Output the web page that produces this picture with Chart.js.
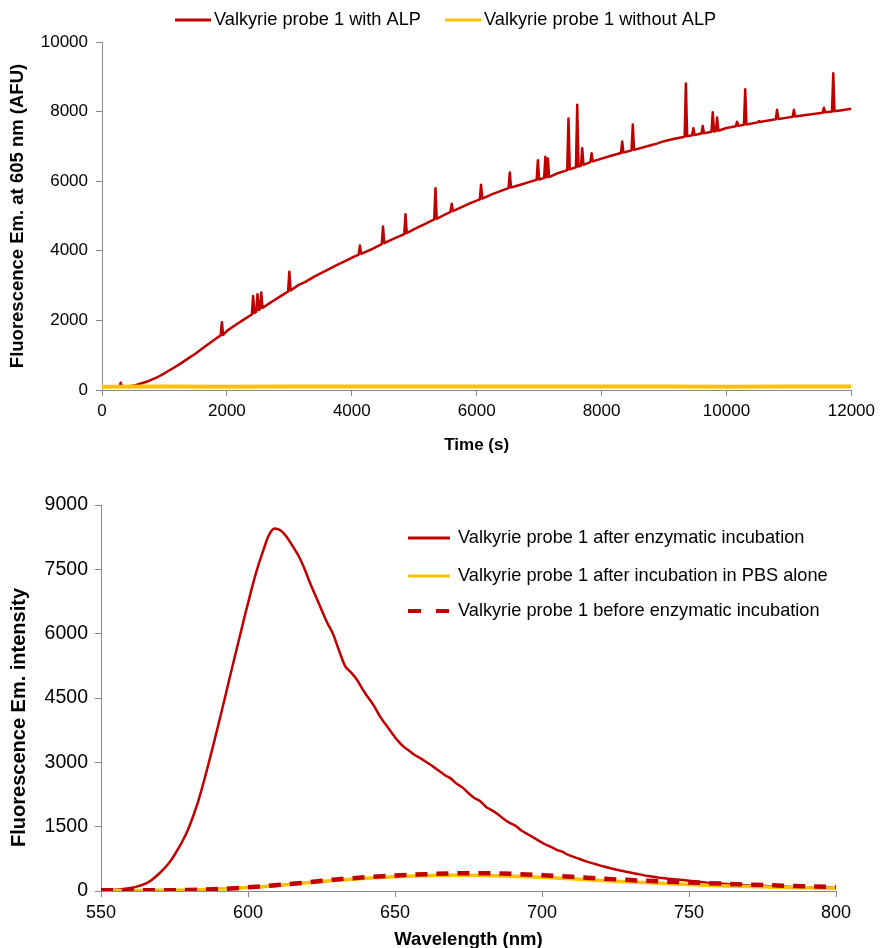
<!DOCTYPE html>
<html>
<head>
<meta charset="utf-8">
<script src="https://cdn.jsdelivr.net/npm/chart.js@4.4.1/dist/chart.umd.min.js"></script>
<style>
  html, body { margin:0; padding:0; background:#fff; overflow:hidden; }
  canvas { display:block; }
</style>
</head>
<body>
<canvas id="kinetic" width="880" height="470"></canvas>
<canvas id="spectra" width="880" height="484"></canvas>
<script>
// --- top panel: kinetics at 605 nm ---
const timeWithALP = [0,150,280,300,320,400,500,650,750,900,1000,1150,1250,1400,1500,1650,1750,1850,1900,1920,1940,2000,2150,2250,2400,2420,2440,2470,2490,2510,2530,2550,2570,2750,2900,2980,3000,3020,3150,3250,3400,3500,3650,3750,3900,4000,4110,4130,4150,4300,4480,4500,4520,4700,4840,4860,4880,5000,5150,5320,5340,5360,5500,5580,5600,5620,5750,5900,6050,6070,6090,6250,6400,6510,6530,6550,6700,6850,6960,6980,7000,7080,7100,7120,7140,7160,7300,7450,7470,7490,7590,7610,7630,7670,7690,7710,7820,7840,7860,8000,8150,8310,8330,8350,8480,8500,8520,8700,8850,9000,9150,9330,9350,9370,9450,9470,9490,9600,9620,9640,9760,9780,9800,9830,9850,9870,10000,10150,10170,10190,10280,10300,10320,10500,10520,10540,10650,10790,10810,10830,10950,11060,11080,11100,11300,11540,11560,11580,11690,11710,11730,11850,12000];
const afuWithALP  = [95,100,100,210,105,100,120,200,260,380,480,640,750,930,1050,1250,1380,1510,1560,1950,1580,1700,1880,2000,2170,2700,2210,2250,2750,2300,2330,2800,2360,2570,2740,2830,3400,2860,3020,3100,3260,3350,3490,3580,3710,3800,3890,4150,3910,4030,4190,4700,4220,4370,4480,5050,4510,4620,4750,4900,5800,4920,5050,5120,5350,5140,5250,5370,5480,5900,5500,5630,5730,5800,6250,5820,5900,5980,6040,6600,6050,6090,6700,6110,6650,6120,6230,6320,7800,6340,6400,8200,6420,6450,6950,6470,6550,6800,6570,6650,6730,6810,7140,6820,6890,7630,6900,6990,7060,7150,7210,7280,8810,7290,7320,7520,7330,7370,7590,7380,7420,7980,7430,7440,7830,7450,7530,7580,7710,7590,7620,8640,7630,7690,7730,7700,7740,7780,8050,7790,7820,7850,8050,7860,7910,7970,8110,7980,8000,9100,8010,8040,8080];
const timeNoALP = [0,1000,2000,3000,4000,5000,6000,7000,8000,9000,10000,11000,12000];
const afuNoALP  = [95,100,95,100,98,100,97,100,98,100,96,100,98];
const timeTicks = [0,2000,4000,6000,8000,10000,12000];
const afuTicks  = [0,2000,4000,6000,8000,10000];

// --- bottom panel: emission spectra ---
const nmAfter = [550,555,560,563,566,570,573,575,578,580,583,585,588,590,593,595,597,599,601,603,605,607,609,611,613,615,617,619,621,623,625,627,629,631,633,635,637,639,641,643,645,647,649,651,653,655,657,659,661,663,665,667,669,671,673,675,677,679,681,683,685,687,689,691,693,695,697,699,701,703,705,707,709,711,713,715,718,721,724,727,730,733,736,740,744,748,752,756,760,765,770,775,780,785,790,795,800];
const intAfter = [20,30,70,120,200,420,640,840,1200,1500,2080,2560,3350,3900,4750,5320,5880,6440,6980,7480,7900,8280,8450,8410,8270,8060,7840,7550,7200,6880,6560,6250,5980,5600,5250,5100,4930,4700,4500,4300,4060,3870,3680,3500,3360,3260,3160,3080,2990,2900,2800,2700,2620,2500,2410,2280,2170,2090,1960,1880,1790,1680,1590,1520,1410,1330,1250,1170,1090,1030,960,910,840,790,740,690,630,570,520,470,430,390,350,310,280,255,225,195,175,150,130,120,105,95,85,80,70];
const nmLow = [550,560,570,580,590,600,610,620,630,640,650,660,670,680,690,700,710,720,730,740,750,760,770,780,790,800];
const intPBS    = [15,10,15,25,45,80,130,190,250,300,335,355,365,360,345,320,285,245,210,180,150,125,105,90,75,60];
const intBefore = [20,15,15,25,45,85,140,200,270,320,360,390,410,415,400,370,330,290,255,225,200,175,150,130,110,95];
const nmTicks  = [550,600,650,700,750,800];
const intTicks = [0,1500,3000,4500,6000,7500,9000];

const RED = '#C00000', YELLOW = '#FFC000', AXIS = '#898989';
const FONT = "'Liberation Sans', Arial, sans-serif";

const pts = (xs, ys) => xs.map((x, i) => ({ x, y: ys[i] }));

// draws a line-sample legend at fixed spots
function lineLegend(id, spots, fontSize, len, gap){
  return {
    id,
    afterDraw(chart){
      const ctx = chart.ctx;
      ctx.save();
      ctx.font = fontSize + 'px ' + FONT;
      ctx.textBaseline = 'middle';
      spots.forEach((s, i) => {
        const ds = chart.data.datasets[i];
        ctx.strokeStyle = ds.borderColor;
        ctx.lineWidth = s.w;
        ctx.setLineDash(s.dash || []);
        ctx.beginPath(); ctx.moveTo(s.x, s.y); ctx.lineTo(s.x + len, s.y); ctx.stroke();
        ctx.fillStyle = '#000';
        ctx.fillText(ds.label, s.x + len + gap, s.y);
      });
      ctx.restore();
    }
  };
}

function axis(min, max, ticks, size, pad, title, titleSize, titlePad, fitKey, fitVal){
  return {
    type: 'linear', min, max,
    afterBuildTicks: s => { s.ticks = ticks.map(v => ({ value: v })); },
    afterFit: s => { s[fitKey] = fitVal; },
    ticks: { color:'#000', font:{ family:FONT, size }, padding:pad, maxRotation:0, autoSkip:false, callback: v => String(v) },
    grid: { drawOnChartArea:false, drawTicks:true, tickLength:6, color:AXIS },
    border: { color:AXIS, width:1 },
    title: { display:true, text:title, color:'#000', font:{ family:FONT, size:titleSize, weight:'bold', lineHeight:1.2 }, padding:titlePad }
  };
}

new Chart(document.getElementById('kinetic'), {
  type: 'line',
  data: { datasets: [
    { label:'Valkyrie probe 1 with ALP', data:pts(timeWithALP, afuWithALP), borderColor:RED, borderWidth:2.5, order:1 },
    { label:'Valkyrie probe 1 without ALP', data:pts(timeNoALP, afuNoALP), borderColor:YELLOW, borderWidth:4, order:0 }
  ]},
  options: {
    responsive:false, animation:false,
    layout: { autoPadding:false, padding:{ left:0, right:23, top:42, bottom:0 } },
    elements: { point:{ radius:0 }, line:{ tension:0, borderJoinStyle:'round' } },
    plugins: { legend:{ display:false }, tooltip:{ enabled:false } },
    scales: {
      x: axis(0, 12000, timeTicks, 17, 5, 'Time (s)', 17, { top:0, bottom:14 }, 'height', 80),
      y: axis(0, 10000, afuTicks, 17, 8, 'Fluorescence Em. at 605 nm (AFU)', 18.5, { top:7, bottom:0 }, 'width', 102)
    }
  },
  plugins: [lineLegend('topLegend', [{ x:175, y:20, w:3 }, { x:445, y:20, w:3 }], 18.2, 36, 3)]
});

new Chart(document.getElementById('spectra'), {
  type: 'line',
  data: { datasets: [
    { label:'Valkyrie probe 1 after enzymatic incubation', data:pts(nmAfter, intAfter), borderColor:RED, borderWidth:2.5, order:2 },
    { label:'Valkyrie probe 1 after incubation in PBS alone', data:pts(nmLow, intPBS), borderColor:YELLOW, borderWidth:3.5, order:1 },
    { label:'Valkyrie probe 1 before enzymatic incubation', data:pts(nmLow, intBefore), borderColor:RED, borderWidth:4.5, borderDash:[12,9], order:0 }
  ]},
  options: {
    responsive:false, animation:false,
    layout: { autoPadding:false, padding:{ left:0, right:44, top:35, bottom:0 } },
    elements: { point:{ radius:0 }, line:{ tension:0.4, cubicInterpolationMode:'monotone', borderJoinStyle:'round' } },
    plugins: { legend:{ display:false }, tooltip:{ enabled:false } },
    scales: {
      x: axis(550, 800, nmTicks, 18, 5, 'Wavelength (nm)', 18.5, { top:0, bottom:3 }, 'height', 63),
      // trailing spaces push the rotated title down, as in the original
      y: axis(0, 9000, intTicks, 19.5, 7, 'Fluorescence Em. intensity       ', 20, { top:7, bottom:0 }, 'width', 101)
    }
  },
  plugins: [lineLegend('bottomLegend', [
    { x:408, y:68, w:3 },
    { x:408, y:106, w:3 },
    { x:408, y:141, w:4, dash:[13,15] }
  ], 18.2, 42, 8)]
});
</script>
</body>
</html>
